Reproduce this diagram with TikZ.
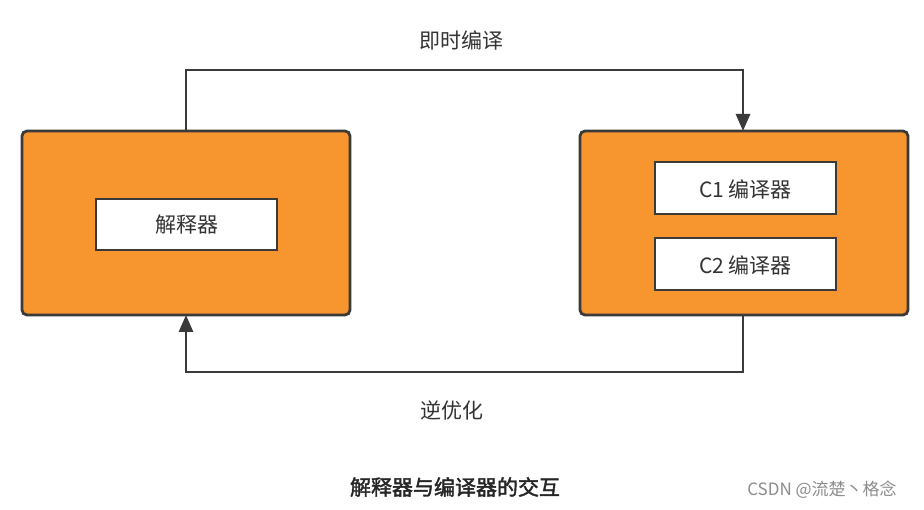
\documentclass[tikz,border=0pt]{standalone}
\usepackage{fontspec}
\usetikzlibrary{arrows.meta}
\setmainfont{Noto Sans CJK SC}
\newfontfamily\cjkb[FakeBold=2]{Noto Sans CJK SC}
\definecolor{org}{HTML}{F7952E}
\definecolor{edge}{HTML}{3A3A3A}
\begin{document}
\begin{tikzpicture}[x=1pt,y=-1pt,
  outer/.style={draw=edge,line width=2.8pt,fill=org,rounded corners=5pt},
  inner/.style={draw=edge,line width=2.6pt,fill=white},
  conn/.style={draw=edge,line width=2.8pt,-{Stealth[length=17pt,width=14pt,inset=0pt]}},
  lbl/.style={font=\fontsize{21}{24}\selectfont,text=black!80}]
\useasboundingbox (0,0) rectangle (924,510);
\fill[white] (0,0) rectangle (924,510);
\draw[outer] (22,131) rectangle (350,315);
\draw[outer] (580,131) rectangle (908,315);
\coordinate (L) at (186,131);
\coordinate (R) at (743,131);
\coordinate (Lb) at (186,315);
\coordinate (Rb) at (743,315);
\draw[inner] (96,199) rectangle (277,250);
\node[lbl] (i) at (186.5,225) {解释器};
\draw[inner] (655,162) rectangle (836,214);
\node[lbl] (c1) at (745.5,189) {C1 编译器};
\draw[inner] (655,238) rectangle (836,290);
\node[lbl] (c2) at (745.5,265) {C2 编译器};
\draw[conn] (L) -- (186,70) -- (743,70) -- (R);
\draw[conn] (Rb) -- (743,372) -- (186,372) -- (Lb);
\node[lbl] (t1) at (461,40) {即时编译};
\node[lbl] (t2) at (452,410) {逆优化};
\node[font=\cjkb\fontsize{21}{24}\selectfont,text=black!85] (title) at (455,487) {解释器与编译器的交互};
\node[font=\fontsize{17}{20}\selectfont,text=black!45] (wm) at (822,490) {CSDN @流楚丶格念};
\end{tikzpicture}
\end{document}
